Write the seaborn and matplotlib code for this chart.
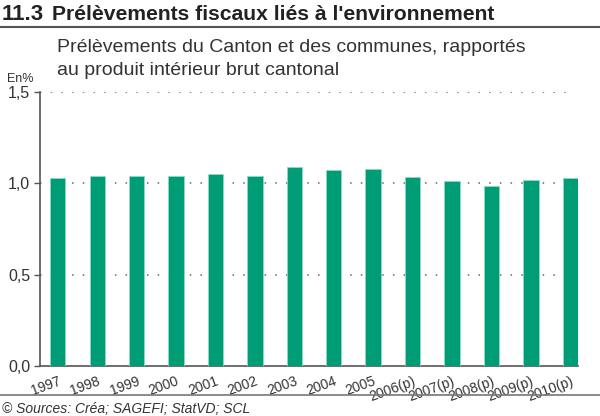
import matplotlib
matplotlib.use('Agg')
import matplotlib.pyplot as plt
import seaborn as sns
import pandas as pd

# data
years = ['1997', '1998', '1999', '2000', '2001', '2002', '2003', '2004', '2005',
         '2006(p)', '2007(p)', '2008(p)', '2009(p)', '2010(p)']
values = [1.026, 1.042, 1.042, 1.042, 1.049, 1.042, 1.090, 1.073, 1.080,
          1.035, 1.011, 0.987, 1.019, 1.026]
yticks = [0.0, 0.5, 1.0, 1.5]
ytick_labels = ['0,0', '0,5', '1,0', '1,5']

df = pd.DataFrame({'year': years, 'value': values})

sns.set_style('white')
plt.rcParams['font.family'] = ['Liberation Sans', 'DejaVu Sans']

fig = plt.figure(figsize=(6, 4.16), dpi=100)
ax = fig.add_axes([0.0667, 0.1202, 0.8963, 0.659])

green = '#009c76'
sns.barplot(data=df, x='year', y='value', color=green, width=0.39,
            edgecolor='#8fd9c0', linewidth=0.6, saturation=1, ax=ax, zorder=3)

ax.set_xlim(-0.45, 13.19)
ax.set_ylim(0, 1.5)
ax.set_yticks(yticks)
ax.set_yticklabels(ytick_labels, fontsize=11.5, color='#333333')
ax.set_xticks(range(len(years)))
ax.set_xticklabels(years, rotation=20, ha='right', rotation_mode='anchor',
                   fontsize=10, color='#333333')
ax.tick_params(axis='x', length=0, pad=6)
ax.tick_params(axis='y', length=4, width=1, color='#555555', pad=3, left=True)
ax.set_xlabel('')
ax.set_ylabel('')

for y in yticks[1:]:
    ax.plot([-0.45, 13.05], [y, y], linestyle=(0, (1, 6)), color='#666666',
            linewidth=1.1, zorder=1)

for s in ['top', 'right']:
    ax.spines[s].set_visible(False)
ax.spines['left'].set_color('#555555')
ax.spines['bottom'].set_color('#555555')
ax.spines['left'].set_linewidth(1.2)
ax.spines['bottom'].set_linewidth(1.2)

# titles and rules
fig.text(0.003, 0.966, '11.3', fontsize=16, fontweight='bold', va='center', color='#222222')
fig.text(0.087, 0.966, "Prélèvements fiscaux liés à l'environnement", fontsize=15.2,
         fontweight='bold', va='center', color='#222222')
fig.add_artist(plt.Line2D([0, 1], [0.934, 0.934], color='#555555', linewidth=1.5))
fig.text(0.095, 0.886, 'Prélèvements du Canton et des communes, rapportés',
         fontsize=14, va='center', color='#333333')
fig.text(0.095, 0.830, 'au produit intérieur brut cantonal',
         fontsize=14, va='center', color='#333333')
fig.text(0.012, 0.809, 'En%', fontsize=9, va='center', color='#333333')

fig.add_artist(plt.Line2D([0, 1], [0.05, 0.05], color='#777777', linewidth=1.2))
fig.text(0.003, 0.018, '© Sources: Créa; SAGEFI; StatVD; SCL', fontsize=10,
         style='italic', va='center', color='#333333')

fig.savefig('out.png', dpi=100)
